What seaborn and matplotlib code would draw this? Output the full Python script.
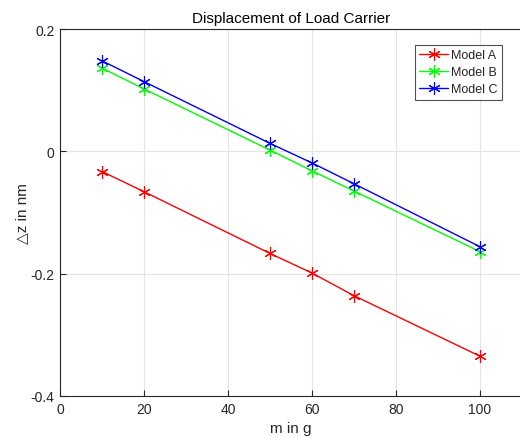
import matplotlib
matplotlib.use("Agg")
import matplotlib.pyplot as plt
import seaborn as sns
import pandas as pd

mass = [10, 20, 50, 60, 70, 100]
model_a = [-0.033, -0.066, -0.167, -0.199, -0.236, -0.335]
model_b = [0.136, 0.102, 0.002, -0.032, -0.065, -0.164]
model_c = [0.148, 0.114, 0.013, -0.019, -0.053, -0.156]
series_names = ["Model A", "Model B", "Model C"]
colors = ["#FF0000", "#00FF00", "#0000FF"]
x_ticks = [0, 20, 40, 60, 80, 100]
y_ticks = [-0.4, -0.2, 0, 0.2]
y_tick_labels = ["-0.4", "-0.2", "0", "0.2"]

sns.set_style("white")
plt.rcParams["font.family"] = ["Liberation Sans", "DejaVu Sans"]

fig = plt.figure(figsize=(5.2, 4.39), dpi=100)
ax = fig.add_axes([60 / 520, 42 / 439, 462 / 520, 367 / 439])

for name, vals, col in zip(series_names, [model_a, model_b, model_c], colors):
    df = pd.DataFrame({"m": mass, "dz": vals})
    sns.lineplot(data=df, x="m", y="dz", ax=ax, color=col, linewidth=1.0,
                 marker=(6, 2, 0), markersize=9, markeredgewidth=0.8,
                 markeredgecolor=col, label=name)

ax.set_xlim(0, 110)
ax.set_ylim(-0.4, 0.2)
ax.set_xticks(x_ticks)
ax.set_xticklabels([str(t) for t in x_ticks])
ax.set_yticks(y_ticks)
ax.set_yticklabels(y_tick_labels)
ax.grid(True, color="#e3e3e3", linewidth=0.8)
ax.tick_params(direction="in", length=4, width=0.8, colors="#262626",
               labelsize=10, labelcolor="#262626", pad=4,
               top=False, right=False, bottom=True, left=True)
for s in ["left", "bottom", "top"]:
    ax.spines[s].set_color("#262626")
    ax.spines[s].set_linewidth(0.8)
ax.spines["right"].set_visible(False)

ax.set_xlabel("m in g", fontsize=11, color="#262626", labelpad=4)
ax.set_ylabel("△z in nm", fontsize=11, color="#262626", labelpad=1)
ax.set_title("Displacement of Load Carrier", fontsize=11, color="black", pad=5)

leg = ax.legend(loc="upper right", bbox_to_anchor=(442 / 462, 1 - 16 / 367),
                fontsize=9, frameon=True, fancybox=False, handlelength=2.3,
                borderpad=0.35, labelspacing=0.4, handletextpad=0.25,
                borderaxespad=0)
leg.get_frame().set_edgecolor("#262626")
leg.get_frame().set_linewidth(0.8)

fig.savefig("out.png", dpi=100)
